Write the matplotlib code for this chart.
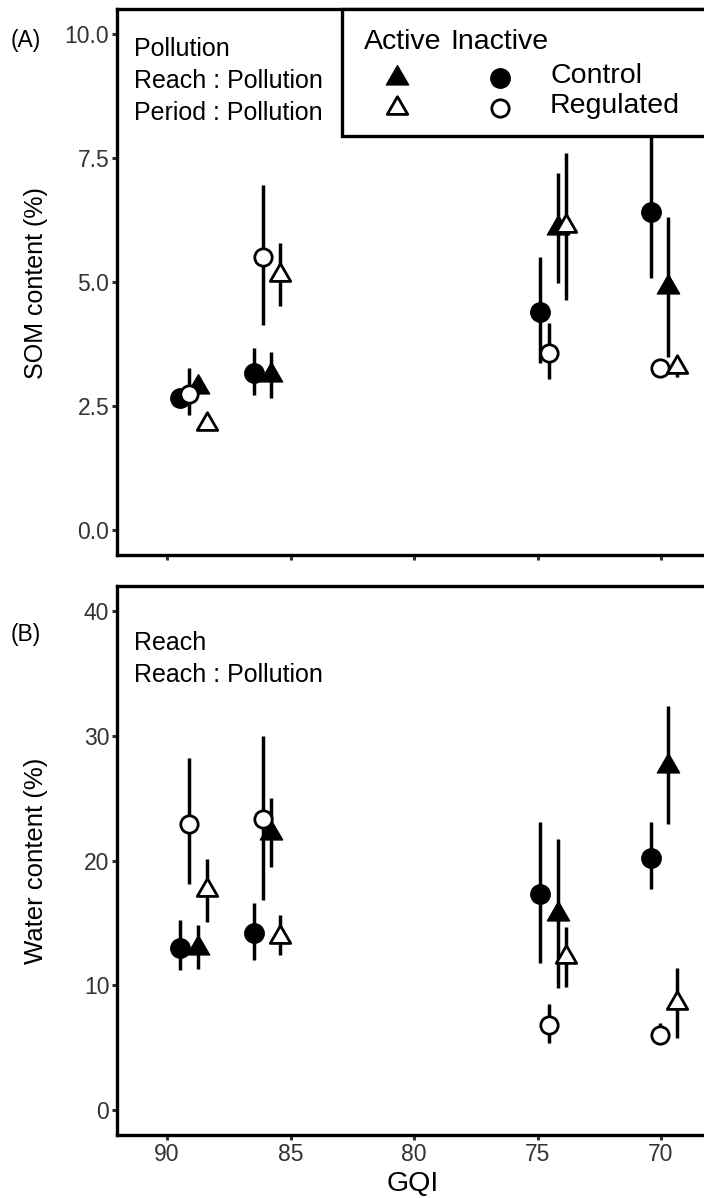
import matplotlib
matplotlib.use("Agg")
import matplotlib.pyplot as plt
from matplotlib.patches import Rectangle
from matplotlib.path import Path
import numpy as np

plt.rcParams['font.family'] = ['Liberation Sans', 'DejaVu Sans']

# ---------------- data ----------------
site_gqi = [88.93, 85.95, 74.37, 69.88]

# Panel A: SOM content (%)
som_ctrl_inact = [2.67, 3.17, 4.40, 6.41]
som_ctrl_inact_lo = [2.55, 2.72, 3.37, 5.08]
som_ctrl_inact_hi = [2.80, 3.67, 5.50, 7.95]
som_reg_inact = [2.74, 5.50, 3.57, 3.27]
som_reg_inact_lo = [2.32, 4.13, 3.04, 3.15]
som_reg_inact_hi = [3.27, 6.96, 4.17, 3.40]
som_ctrl_act = [2.88, 3.13, 6.08, 4.90]
som_ctrl_act_lo = [2.80, 2.66, 4.98, 3.49]
som_ctrl_act_hi = [2.96, 3.59, 7.20, 6.31]
som_reg_act = [2.14, 5.14, 6.12, 3.29]
som_reg_act_lo = [2.08, 4.52, 4.64, 3.08]
som_reg_act_hi = [2.20, 5.79, 7.60, 3.40]

# Panel B: Water content (%)
wat_ctrl_inact = [13.0, 14.2, 17.3, 20.2]
wat_ctrl_inact_lo = [11.2, 12.0, 11.8, 17.7]
wat_ctrl_inact_hi = [15.2, 16.6, 23.1, 23.1]
wat_reg_inact = [22.9, 23.3, 6.8, 6.0]
wat_reg_inact_lo = [18.1, 16.8, 5.4, 5.5]
wat_reg_inact_hi = [28.2, 30.0, 8.5, 7.0]
wat_ctrl_act = [13.0, 22.2, 15.7, 27.6]
wat_ctrl_act_lo = [11.3, 19.5, 9.8, 22.9]
wat_ctrl_act_hi = [14.8, 25.0, 21.7, 32.4]
wat_reg_act = [17.6, 13.9, 12.3, 8.6]
wat_reg_act_lo = [15.1, 12.4, 9.9, 5.8]
wat_reg_act_hi = [20.1, 15.6, 14.7, 11.4]

x_ticks = [90, 85, 80, 75, 70]
som_ticks = [0.0, 2.5, 5.0, 7.5, 10.0]
wat_ticks = [0, 10, 20, 30, 40]

# ---------------- style ----------------
W, H = 704, 1198
fig = plt.figure(figsize=(W / 100, H / 100), dpi=100)

def fx(px):
    return px / W

def fy(py):
    return 1 - py / H

# equilateral triangle centred at centroid (like R pch 17 / 2)
tri = Path([(0, 1.555), (1.347, -0.778), (-1.347, -0.778), (0, 1.555)],
           [Path.MOVETO, Path.LINETO, Path.LINETO, Path.CLOSEPOLY])

ax_left, ax_right = 117, 722
axA = fig.add_axes([fx(ax_left), fy(555), fx(ax_right) - fx(ax_left), fy(9) - fy(555)])
axB = fig.add_axes([fx(ax_left), fy(1135), fx(ax_right) - fx(ax_left), fy(586) - fy(1135)])

px_per_unit = (661 - 167) / 20.0
xlim_left = 90 + (167 - ax_left) / px_per_unit
xlim_right = 70 - (ax_right - 661) / px_per_unit

dodge = [0.54, 0.18, -0.18, -0.54]  # ctrl inact, reg inact, ctrl act, reg act

styles = {
    'ctrl_inact': dict(marker='o', ms=13.5, mfc='black', mec='black', mew=1.5),
    'reg_inact': dict(marker='o', ms=12.5, mfc='white', mec='black', mew=2.0),
    'ctrl_act': dict(marker=tri, ms=18.5, mfc='black', mec='black', mew=1.0),
    'reg_act': dict(marker=tri, ms=17, mfc='white', mec='black', mew=2.0),
}

def draw_panel(ax, series):
    for key, vals, lo, hi, off in series:
        xs = [g + off for g in site_gqi]
        ax.vlines(xs, lo, hi, color='black', lw=2.5, zorder=2)
    order = ['ctrl_inact', 'ctrl_act', 'reg_inact', 'reg_act']
    smap = {s[0]: s for s in series}
    for k in order:
        key, vals, lo, hi, off = smap[k]
        xs = [g + off for g in site_gqi]
        ax.plot(xs, vals, ls='none', zorder=3, **styles[key])

draw_panel(axA, [
    ('ctrl_inact', som_ctrl_inact, som_ctrl_inact_lo, som_ctrl_inact_hi, dodge[0]),
    ('reg_inact', som_reg_inact, som_reg_inact_lo, som_reg_inact_hi, dodge[1]),
    ('ctrl_act', som_ctrl_act, som_ctrl_act_lo, som_ctrl_act_hi, dodge[2]),
    ('reg_act', som_reg_act, som_reg_act_lo, som_reg_act_hi, dodge[3]),
])
draw_panel(axB, [
    ('ctrl_inact', wat_ctrl_inact, wat_ctrl_inact_lo, wat_ctrl_inact_hi, dodge[0]),
    ('reg_inact', wat_reg_inact, wat_reg_inact_lo, wat_reg_inact_hi, dodge[1]),
    ('ctrl_act', wat_ctrl_act, wat_ctrl_act_lo, wat_ctrl_act_hi, dodge[2]),
    ('reg_act', wat_reg_act, wat_reg_act_lo, wat_reg_act_hi, dodge[3]),
])

for ax in (axA, axB):
    ax.set_xlim(xlim_left, xlim_right)
    ax.set_xticks(x_ticks)
    for s in ax.spines.values():
        s.set_linewidth(2.4)
        s.set_color('black')
    ax.tick_params(direction='out', length=3.5, width=2.2, color='#333333',
                   labelcolor='#333333', labelsize=16.5, pad=2)

axA.set_ylim(-0.5, 10.5)
axA.set_yticks(som_ticks)
axA.set_yticklabels([f"{t:.1f}" for t in som_ticks])
axA.set_xticklabels([])

axB.set_ylim(-2, 42)
axB.set_yticks(wat_ticks)
axB.set_yticklabels([str(t) for t in wat_ticks])
axB.set_xticklabels([str(t) for t in x_ticks])

# axis titles
fig.text(fx(36), fy(283), "SOM content (%)", rotation=90, ha='center', va='center', fontsize=18)
fig.text(fx(36), fy(861), "Water content (%)", rotation=90, ha='center', va='center', fontsize=18.5)
fig.text(fx(413), fy(1184), "GQI", ha='center', va='center', fontsize=20.5)

# panel letters
fig.text(fx(11), fy(41), "(A)", ha='left', va='center', fontsize=16.5)
fig.text(fx(11), fy(634), "(B)", ha='left', va='center', fontsize=16.5)

# model-term annotations
for txt, py in [("Pollution", 49), ("Reach : Pollution", 81), ("Period : Pollution", 113)]:
    fig.text(fx(134), fy(py), txt, ha='left', va='center', fontsize=18)
for txt, py in [("Reach", 643), ("Reach : Pollution", 675)]:
    fig.text(fx(134), fy(py), txt, ha='left', va='center', fontsize=18)

# manual legend box
box = Rectangle((fx(342), fy(136)), fx(ax_right + 5) - fx(342), fy(9) - fy(136),
                transform=fig.transFigure, facecolor='white', edgecolor='black',
                lw=2.4, zorder=10, clip_on=False)
axA.add_artist(box)
fig.text(fx(403), fy(42), "Active", ha='center', va='center', fontsize=20.5, zorder=11)
fig.text(fx(499), fy(42), "Inactive", ha='center', va='center', fontsize=20.5, zorder=11)
fig.text(fx(550), fy(76), "Control", ha='left', va='center', fontsize=20.5, zorder=11)
fig.text(fx(550), fy(106), "Regulated", ha='left', va='center', fontsize=20.5, zorder=11)
leg_items = [('ctrl_act', 397, 78), ('ctrl_inact', 500, 78), ('reg_act', 397, 108), ('reg_inact', 500, 108)]
for key, px, py in leg_items:
    axA.plot([fx(px)], [fy(py)], transform=fig.transFigure, clip_on=False, zorder=12,
             ls='none', **styles[key])

fig.savefig("out.png", dpi=100)
